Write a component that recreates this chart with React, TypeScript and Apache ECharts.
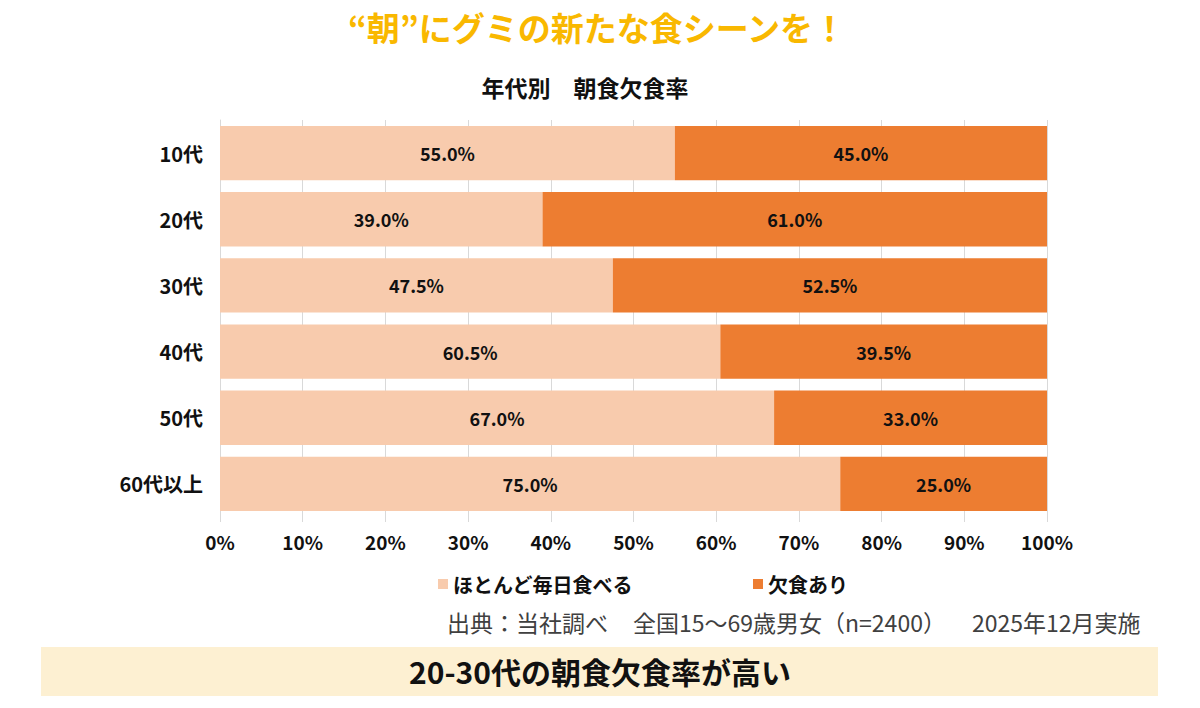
import React, { useEffect, useRef } from "react";
import * as echarts from "echarts";

const FONT = '"Noto Sans CJK JP", "Noto Sans", sans-serif';
const COLOR_DAILY = "#F8CBAD";
const COLOR_SKIP = "#ED7D31";

const categories = ["10代", "20代", "30代", "40代", "50代", "60代以上"];
const dailyValues = [55.0, 39.0, 47.5, 60.5, 67.0, 75.0];
const skipValues = [45.0, 61.0, 52.5, 39.5, 33.0, 25.0];
const seriesNames = ["ほとんど毎日食べる", "欠食あり"];

const App: React.FC = () => {
    const ref = useRef<HTMLDivElement | null>(null);

    useEffect(() => {
        if (!ref.current) return;
        const inst = echarts.init(ref.current, undefined, { renderer: "svg" });

        const label = {
            show: true,
            position: "inside",
            color: "#111",
            fontSize: 18,
            fontWeight: "bold",
            fontFamily: FONT,
            formatter: (p: any) => `${Number(p.value).toFixed(1)}%`,
        };

        const srcFont = `23px ${FONT}`;

        inst.setOption({
            animation: false,
            backgroundColor: "#fff",
            textStyle: { fontFamily: FONT },
            grid: { left: 220, right: 153, top: 120, bottom: 191 },
            legend: {
                data: seriesNames,
                left: 433,
                top: 569,
                itemGap: 120,
                itemWidth: 10,
                itemHeight: 10,
                icon: "rect",
                textStyle: { fontSize: 20, fontWeight: "bold", color: "#111", fontFamily: FONT },
            },
            xAxis: {
                type: "value",
                min: 0,
                max: 100,
                interval: 10,
                axisLabel: {
                    formatter: "{value}%",
                    color: "#111",
                    fontSize: 19,
                    fontWeight: "bold",
                    margin: 15,
                    fontFamily: FONT,
                },
                axisLine: { show: false },
                axisTick: { show: true, length: 5, lineStyle: { color: "#d9d9d9" } },
                splitLine: { show: true, lineStyle: { color: "#d9d9d9", width: 1 } },
            },
            yAxis: {
                type: "category",
                data: categories,
                inverse: true,
                axisLine: { show: true, lineStyle: { color: "#d9d9d9" } },
                axisTick: { show: false },
                axisLabel: {
                    color: "#111",
                    fontSize: 20,
                    fontWeight: "bold",
                    margin: 17,
                    fontFamily: FONT,
                },
            },
            series: [
                {
                    name: seriesNames[0],
                    type: "bar",
                    stack: "total",
                    data: dailyValues,
                    barCategoryGap: "18%",
                    itemStyle: { color: COLOR_DAILY },
                    label,
                },
                {
                    name: seriesNames[1],
                    type: "bar",
                    stack: "total",
                    data: skipValues,
                    barCategoryGap: "18%",
                    itemStyle: { color: COLOR_SKIP },
                    label,
                },
            ],
            graphic: [
                {
                    type: "text",
                    x: 597,
                    y: 27,
                    style: {
                        text: "“朝”にグミの新たな食シーンを！",
                        fill: "#F9B800",
                        font: `bold 33px ${FONT}`,
                        align: "center",
                        verticalAlign: "middle",
                    },
                },
                {
                    type: "text",
                    x: 585,
                    y: 87,
                    style: {
                        text: "年代別　朝食欠食率",
                        fill: "#111",
                        font: `bold 23px ${FONT}`,
                        align: "center",
                        verticalAlign: "middle",
                    },
                },
                {
                    type: "text",
                    x: 447,
                    y: 622,
                    style: {
                        text: "出典：当社調べ",
                        fill: "#404040",
                        font: srcFont,
                        align: "left",
                        verticalAlign: "middle",
                    },
                },
                {
                    type: "text",
                    x: 633,
                    y: 622,
                    style: {
                        text: "全国15～69歳男女（n=2400）",
                        fill: "#404040",
                        font: srcFont,
                        align: "left",
                        verticalAlign: "middle",
                    },
                },
                {
                    type: "text",
                    x: 972,
                    y: 622,
                    style: {
                        text: "2025年12月実施",
                        fill: "#404040",
                        font: srcFont,
                        align: "left",
                        verticalAlign: "middle",
                    },
                },
                {
                    type: "rect",
                    shape: { x: 41, y: 647, width: 1117, height: 49 },
                    style: { fill: "#FDF0D2" },
                    z: -1,
                },
                {
                    type: "text",
                    x: 600,
                    y: 671,
                    style: {
                        text: "20-30代の朝食欠食率が高い",
                        fill: "#111",
                        font: `bold 30px ${FONT}`,
                        align: "center",
                        verticalAlign: "middle",
                    },
                },
            ],
        });

        return () => inst.dispose();
    }, []);

    return (
        <div
            ref={ref}
            style={{ position: "fixed", left: 0, top: 0, width: 1200, height: 708 }}
        />
    );
};

export default App;
